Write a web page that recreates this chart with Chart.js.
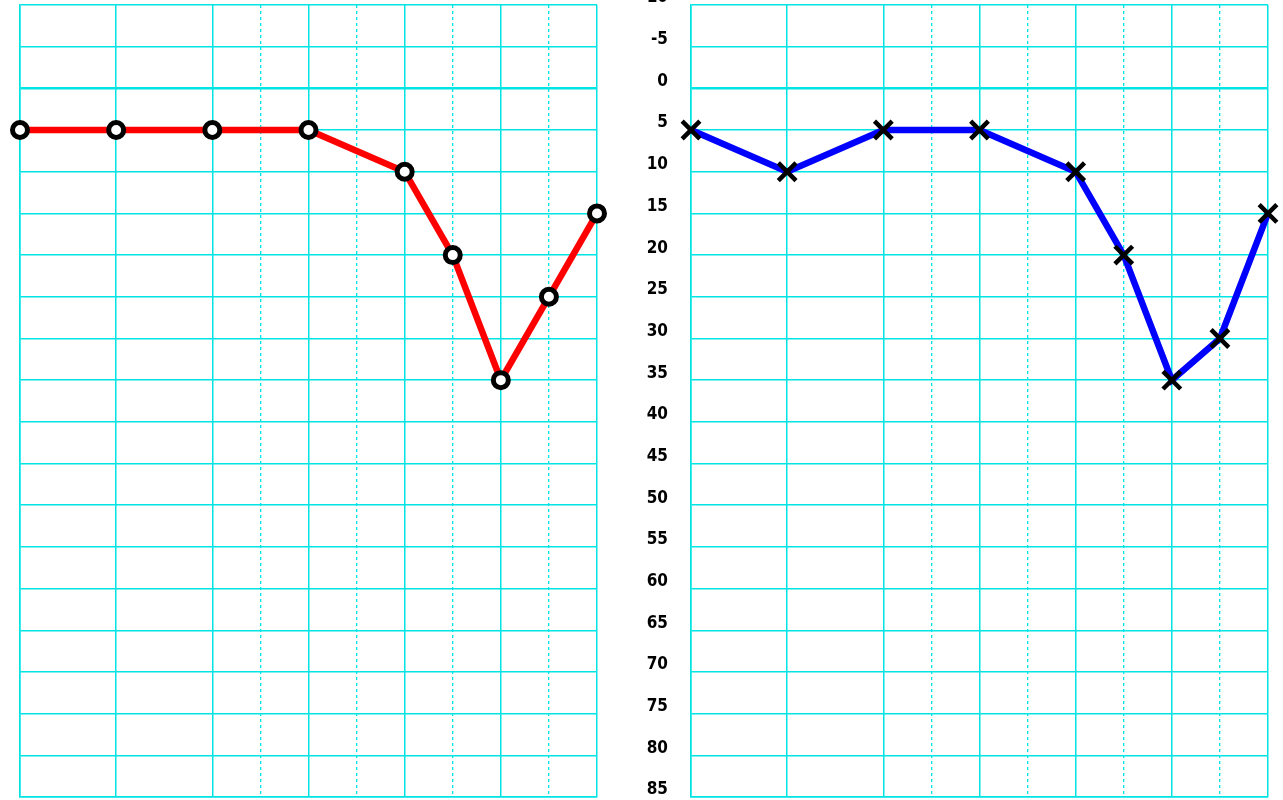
<!DOCTYPE html>
<html lang="en">
<head>
    <meta charset="UTF-8">
    <title>Audiogram</title>
    <script src="https://cdn.jsdelivr.net/npm/chart.js"></script>
    <style>
        body {
            margin: 0;
            background: #fff;
            width: 1283px;
            height: 800px;
            overflow: hidden;
            position: relative;
        }
        canvas { position: absolute; top: 0; }
        #left-chart { left: 0; }
        #right-chart { left: 620px; }
    </style>
</head>
<body>
    <canvas id="left-chart" width="620" height="800"></canvas>
    <canvas id="right-chart" width="663" height="800"></canvas>

    <script>
        // Test frequencies (Hz) and hearing levels (dB HL)
        const freqs = [125, 250, 500, 1000, 2000, 3000, 4000, 6000, 8000];
        const leftEar = [5, 5, 5, 5, 10, 20, 35, 25, 15];
        const rightEar = [5, 10, 5, 5, 10, 20, 35, 30, 15];

        // Grid frequencies: octaves solid, half-octaves dashed
        const octaveFreqs = [125, 250, 500, 1000, 2000, 4000, 8000];
        const halfFreqs = [750, 1500, 3000, 6000];
        const dbTicks = [];
        for (let v = -10; v <= 85; v += 5) dbTicks.push(v);

        // audiogram x position: octave index, half-octaves sit midway
        const pos = f => {
            const o = Math.log2(f / 125);
            return Number.isInteger(o) ? o : Math.log2(f / 187.5) + 0.5;
        };

        const gridColor = '#00e4e4';

        function makeChart(id, values, color, marker, showLabels, yWidth, padRight) {
            const points = freqs.map((f, i) => ({ x: pos(f), y: values[i] }));
            return new Chart(document.getElementById(id), {
                type: 'line',
                data: {
                    datasets: [{
                        data: points,
                        borderColor: color,
                        borderWidth: 6.5,
                        pointStyle: marker,
                        pointRadius: marker === 'circle' ? 7.5 : 12.5,
                        pointBorderWidth: marker === 'circle' ? 5 : 4.5,
                        pointBorderColor: '#000',
                        pointBackgroundColor: '#fff',
                        clip: false
                    }]
                },
                options: {
                    responsive: false,
                    animation: false,
                    layout: { autoPadding: false, padding: { top: 5, right: padRight, bottom: 0, left: 0 } },
                    plugins: { legend: { display: false }, tooltip: { enabled: false } },
                    scales: {
                        x: {
                            type: 'linear',
                            min: pos(octaveFreqs[0]),
                            max: pos(octaveFreqs[octaveFreqs.length - 1]),
                            afterBuildTicks: s => { s.ticks = octaveFreqs.map(f => ({ value: pos(f) })); },
                            afterFit: s => { s.height = 3; s.paddingLeft = 0; s.paddingRight = 0; },
                            ticks: { display: false },
                            grid: { color: gridColor, lineWidth: 1.5, drawTicks: false },
                            border: { color: gridColor, width: 1.5 }
                        },
                        x2: {
                            type: 'linear',
                            position: 'bottom',
                            min: pos(octaveFreqs[0]),
                            max: pos(octaveFreqs[octaveFreqs.length - 1]),
                            afterBuildTicks: s => { s.ticks = halfFreqs.map(f => ({ value: pos(f) })); },
                            afterFit: s => { s.height = 0; s.paddingLeft = 0; s.paddingRight = 0; },
                            ticks: { display: false },
                            grid: { color: gridColor, lineWidth: 1.3, drawTicks: false },
                            border: { display: false, dash: [3, 3] }
                        },
                        y: {
                            reverse: true,
                            min: dbTicks[0],
                            max: dbTicks[dbTicks.length - 1],
                            afterBuildTicks: s => { s.ticks = dbTicks.map(v => ({ value: v })); },
                            afterFit: s => { s.width = yWidth; s.paddingTop = 0; s.paddingBottom = 0; },
                            ticks: {
                                display: showLabels,
                                padding: 23,
                                labelOffset: -7,
                                color: '#000',
                                font: { family: '"Liberation Sans Narrow", "DejaVu Sans Condensed", sans-serif', size: 17, weight: 'bold' }
                            },
                            grid: {
                                color: gridColor,
                                drawTicks: false,
                                lineWidth: c => (c.tick && c.tick.value === 0) ? 2.5 : 1.5
                            },
                            border: { color: gridColor, width: 1.5 }
                        }
                    }
                }
            });
        }

        makeChart('left-chart', leftEar, '#ff0000', 'circle', false, 20, 23);
        makeChart('right-chart', rightEar, '#0000ff', 'crossRot', true, 71, 15);
    </script>
</body>
</html>
